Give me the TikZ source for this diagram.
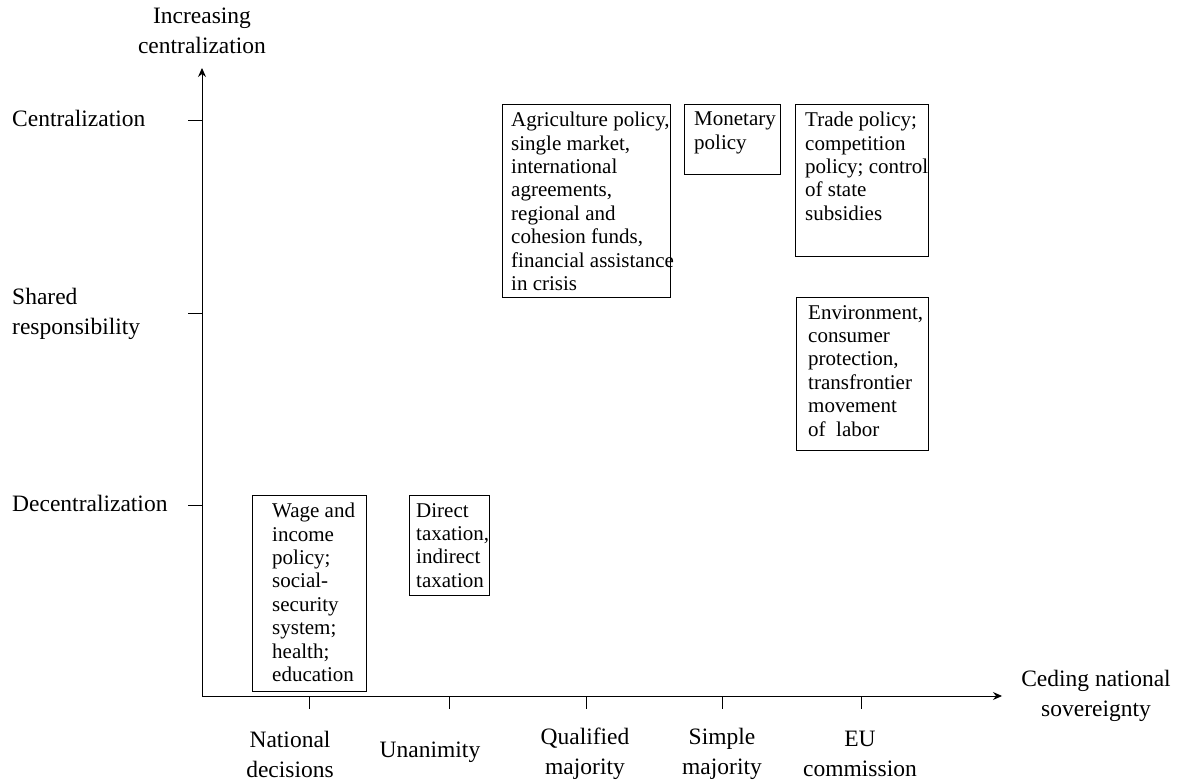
\documentclass[tikz,border=0pt]{standalone}
\usepackage{fontspec}
\setmainfont{Liberation Serif}
\usetikzlibrary{arrows.meta,positioning}

\newcommand\boxfont{\fontsize{21}{23.4}\selectfont}
\newcommand\axisfont{\fontsize{23.5}{30}\selectfont}

\tikzset{
  policybox/.style={rectangle,draw,line width=0.9pt,anchor=north west,inner sep=0pt},
  policytext/.style={anchor=north west,align=left,inner sep=0pt,font=\boxfont},
  axislabel/.style={align=center,inner sep=0pt,font=\axisfont},
  axisline/.style={line width=0.9pt,-{Stealth[length=9pt,width=8pt,inset=3pt]}},
  tick/.style={line width=0.9pt}
}

\begin{document}
\begin{tikzpicture}[x=1pt,y=-1pt]
\useasboundingbox (0,0) rectangle (1181,783);

% axes
\coordinate (o) at (202,696);
\coordinate (ytip) at (202,68);
\coordinate (xtip) at (1002,696);
\draw [axisline] (o) -- (ytip);
\draw [axisline] (o) -- (xtip);

% levels of centralization
\node [axislabel] (ytitle) at (202,31) {Increasing\\centralization};
\node [axislabel,anchor=west] (cen) at (12,118) {Centralization};
\node [axislabel,anchor=west,align=left] (shared) at (12,314) {Shared\\responsibility};
\node [axislabel,anchor=west] (decen) at (12,503) {Decentralization};
\foreach \y in {120,313,505}
    \draw [tick] (188,\y) -- (202,\y);

% decision procedures
\node [axislabel] (xtitle) at (1096,696) {Ceding national\\sovereignty};
\node [axislabel] (natdec) at (290,754) {National\\decisions};
\node [axislabel] (unan) at (430,752) {Unanimity};
\node [axislabel] (qual) at (585,754) {Qualified\\majority};
\node [axislabel] (simple) at (722,754) {Simple\\majority};
\node [axislabel] (eucom) at (860,754) {EU\\commission};
\foreach \x in {309,449,586,722,861}
    \draw [tick] (\x,696) -- (\x,709);

% policy fields
\node [policybox,minimum width=168pt,minimum height=193pt] (agri) at (502,104) {};
\node [policytext] (agri-t) at ([shift={(9,8)}]agri.north west)
    {Agriculture policy,\\single market,\\international\\agreements,\\regional and\\cohesion funds,\\financial assistance\\in crisis};

\node [policybox,minimum width=96pt,minimum height=70pt] (mon) at (684,104) {};
\node [policytext] (mon-t) at ([shift={(10,8)}]mon.north west) {Monetary\\policy};

\node [policybox,minimum width=133pt,minimum height=152pt] (trade) at (795,104) {};
\node [policytext] (trade-t) at ([shift={(10,8)}]trade.north west)
    {Trade policy;\\competition\\policy; control\\of state\\subsidies};

\node [policybox,minimum width=132pt,minimum height=153pt] (env) at (796,297) {};
\node [policytext] (env-t) at ([shift={(12,8)}]env.north west)
    {Environment,\\consumer\\protection,\\transfrontier\\movement\\of~ labor};

\node [policybox,minimum width=114pt,minimum height=196pt] (wage) at (252,495) {};
\node [policytext] (wage-t) at ([shift={(20,8)}]wage.north west)
    {Wage and\\income\\policy;\\social-\\security\\system;\\health;\\education};

\node [policybox,minimum width=80pt,minimum height=100pt] (tax) at (409,495) {};
\node [policytext] (tax-t) at ([shift={(7,8)}]tax.north west)
    {Direct\\taxation,\\indirect\\taxation};

\end{tikzpicture}
\end{document}
